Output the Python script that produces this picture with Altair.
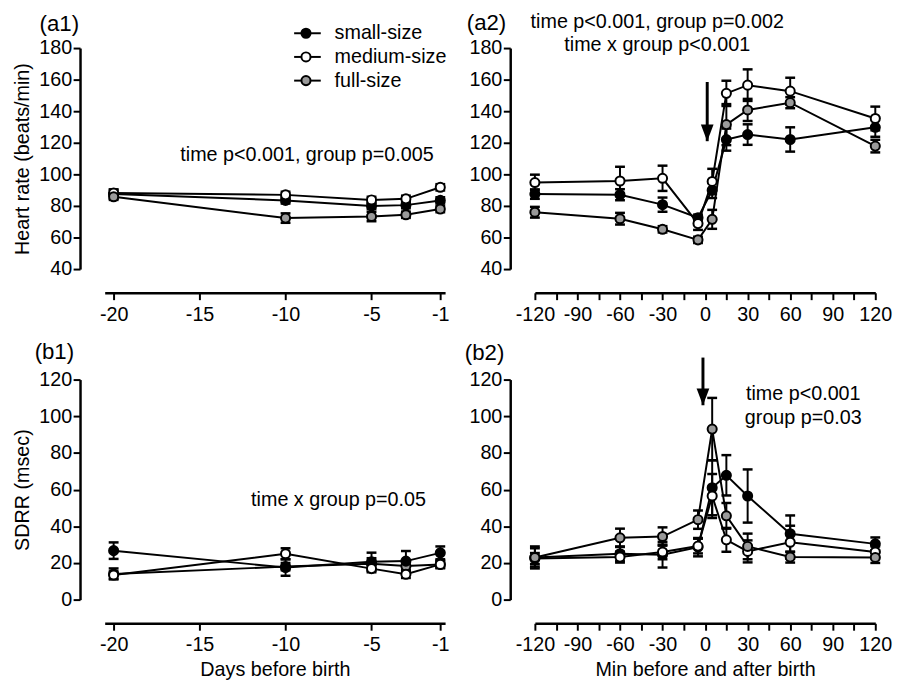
import altair as alt
import pandas as pd

FONT = "Liberation Sans"

groups = ["small-size", "medium-size", "full-size"]
fills = ["#000000", "#ffffff", "#9a9a9a"]

# ---- (a1) heart rate, days before birth
days = [-20, -10, -5, -3, -1]
days_ticks = [-20, -15, -10, -5, -1]
hr_days_small = [87.5, 83.5, 80.0, 80.5, 83.5]
hr_days_small_err = [3, 2, 2, 2, 2]
hr_days_medium = [88.2, 87.0, 83.8, 84.5, 91.8]
hr_days_medium_err = [2, 2, 2, 2, 2]
hr_days_full = [85.8, 72.3, 73.3, 74.4, 78.0]
hr_days_full_err = [2, 3, 3, 2, 2]

# ---- (a2) heart rate, minutes around birth
mins = [-120, -60, -30, -5, 5, 15, 30, 60, 120]
mins_ticks = [-120, -105, -90, -75, -60, -45, -30, -15, 0, 15, 30, 45, 60, 75, 90, 105, 120]
hr_min_small = [87.5, 87.1, 80.8, 72.5, 90.0, 122.0, 125.2, 122.1, 129.8]
hr_min_small_err = [3, 3.5, 4.5, 2, 5, 7, 6.5, 7.7, 6]
hr_min_medium = [94.8, 95.8, 97.5, 68.8, 95.5, 151.3, 156.5, 152.7, 135.4]
hr_min_medium_err = [5, 9, 8, 4, 8, 8, 10, 8.5, 7.5]
hr_min_full = [76.0, 71.9, 65.2, 58.5, 71.5, 131.5, 140.8, 145.4, 117.9]
hr_min_full_err = [3.4, 3.7, 2, 2, 6, 13, 7, 3.5, 4]

# ---- (b1) SDRR, days before birth
sd_days_small = [26.7, 17.5, 20.6, 21.0, 25.5]
sd_days_small_err = [4.5, 4.5, 5, 5.5, 3.5]
sd_days_medium = [13.4, 25.0, 16.9, 13.8, 19.2]
sd_days_medium_err = [2, 3, 2, 2, 2]
sd_days_full = [14.0, 18.0, 19.6, 18.3, 19.2]
sd_days_full_err = [3, 2, 3, 2, 2]

# ---- (b2) SDRR, minutes around birth
sd_min_small = [23.0, 25.0, 24.5, 28.6, 61.0, 67.8, 56.5, 35.9, 30.4]
sd_min_small_err = [6, 4, 7, 5, 15, 11, 14.5, 10, 3.5]
sd_min_medium = [22.4, 23.2, 26.0, 29.2, 56.5, 32.6, 26.3, 31.3, 26.0]
sd_min_medium_err = [3, 3, 4, 4, 12, 6.5, 6, 9, 3]
sd_min_full = [23.0, 33.7, 34.4, 43.6, 93.0, 45.7, 29.0, 23.2, 23.0]
sd_min_full_err = [5, 5, 5, 5, 17, 7, 7, 3, 3]

hr_ticks = [40, 60, 80, 100, 120, 140, 160, 180]
sd_ticks = [0, 20, 40, 60, 80, 100, 120]

# birth arrows (x, top, tip)
arrow_a2 = [1.5, 158.5, 121.0]
arrow_b2 = [-1.5, 132.0, 106.0]

W, H = 345, 224
ARROW_PATH = "M-0.76,-2L0.76,-2L0,0Z"
TXT = 20
LBL = 20

AX_COMMON = dict(grid=False, domainColor="black", domainWidth=2.5, tickColor="black",
                 tickWidth=2, tickSize=7, labelFont=FONT, labelFontSize=LBL,
                 labelColor="black", titleFont=FONT, titleFontSize=TXT,
                 titleFontWeight="normal", titleColor="black")


def one_row():
    return alt.Chart(pd.DataFrame({"k": [0]}))


def text_layer(txt, x, y, align="center", size=TXT):
    return one_row().mark_text(text=txt, font=FONT, fontSize=size, color="black",
                               align=align, baseline="middle").encode(
        x=alt.value(x), y=alt.value(y))


def panel(xs, ys_list, errs_list, xdom, xticks, ydom, yticks, ytitle, xtitle,
          label_every=1, height=H, arrow_spec=None, draw_order=(0, 1, 2), extras=()):
    rows = []
    for gi in draw_order:
        g, ys, es = groups[gi], ys_list[gi], errs_list[gi]
        for x, y, e in zip(xs, ys, es):
            rows.append(dict(x=x, y=y, lo=y - e, hi=y + e, group=g))
    df = pd.DataFrame(rows)
    xs_ = alt.Scale(domain=xdom, nice=False, zero=False)
    ys_ = alt.Scale(domain=ydom, nice=False, zero=False)
    xax = alt.Axis(values=xticks, title=xtitle, offset=24, labelPadding=5, titlePadding=5,
                   labelFlush=False,
                   labelExpr=f"datum.value % {label_every} == 0 ? toString(datum.value) : ''",
                   **AX_COMMON)
    yax = alt.Axis(values=yticks, title=ytitle, offset=25, labelPadding=1.5, titlePadding=6,
                   **AX_COMMON)

    def X(f="x"):
        return alt.X(f"{f}:Q", scale=xs_, axis=xax)

    def Y(f):
        return alt.Y(f"{f}:Q", scale=ys_, axis=yax)

    base = alt.Chart(df)
    line = base.mark_line(color="black", strokeWidth=2).encode(
        x=X(), y=Y("y"), detail="group:N")
    bars = base.mark_rule(color="black", strokeWidth=2).encode(
        x=X(), y=Y("lo"), y2="hi:Q")
    cap_hi = base.mark_tick(orient="horizontal", size=10, thickness=2.5, color="black",
                            opacity=1).encode(x=X(), y=Y("hi"))
    cap_lo = base.mark_tick(orient="horizontal", size=10, thickness=2.5, color="black",
                            opacity=1).encode(x=X(), y=Y("lo"))
    pts = base.mark_point(filled=True, size=85, stroke="black", strokeWidth=2,
                          opacity=1, shape="circle").encode(
        x=X(), y=Y("y"),
        fill=alt.Fill("group:N", scale=alt.Scale(domain=groups, range=fills), legend=None))
    layers = [line, bars, cap_hi, cap_lo, pts]
    if arrow_spec:
        adf = pd.DataFrame({"x": [arrow_spec[0]], "y0": [arrow_spec[1]], "y1": [arrow_spec[2]]})
        layers.append(alt.Chart(adf).mark_rule(color="black", strokeWidth=3).encode(
            x=X(), y=Y("y0"), y2="y1:Q"))
        layers.append(alt.Chart(adf).mark_point(shape=ARROW_PATH, filled=True, fill="black",
                                                strokeWidth=0, size=289, opacity=1).encode(
            x=X(), y=Y("y1")))
    layers.extend(extras)
    return alt.layer(*layers).properties(width=W, height=height)


def legend_layers():
    out = []
    for i, (g, f) in enumerate(zip(groups, fills)):
        yy = -15 + 24 * i
        out.append(one_row().mark_rule(color="black", strokeWidth=2).encode(
            x=alt.value(192), x2=alt.value(219), y=alt.value(yy)))
        out.append(one_row().mark_point(filled=True, size=85, stroke="black", strokeWidth=2,
                                        fill=f, opacity=1, shape="circle").encode(
            x=alt.value(204), y=alt.value(yy)))
        out.append(text_layer(g, 233, yy, align="left"))
    return out


xdays = [-20.52, -0.72]
xmins = [-120, 120]

a1 = panel(days, [hr_days_small, hr_days_medium, hr_days_full],
           [hr_days_small_err, hr_days_medium_err, hr_days_full_err],
           xdays, days_ticks, [40, 180], hr_ticks, "Heart rate (beats/min)", None,
           extras=[text_layer("(a1)", -66, -24, align="left", size=22.5),
                   text_layer("time p<0.001, group p=0.005", 205, 108),
                   *legend_layers()])

a2 = panel(mins, [hr_min_small, hr_min_medium, hr_min_full],
           [hr_min_small_err, hr_min_medium_err, hr_min_full_err],
           xmins, mins_ticks, [40, 180], hr_ticks, None, None, label_every=30,
           arrow_spec=arrow_a2,
           extras=[text_layer("(a2)", -69, -25, align="left", size=22.5),
                   text_layer("time p<0.001, group p=0.002", 124, -26),
                   text_layer("time x group p<0.001", 124, -3)])

b1 = panel(days, [sd_days_small, sd_days_medium, sd_days_full],
           [sd_days_small_err, sd_days_medium_err, sd_days_full_err],
           xdays, days_ticks, [0, 120], sd_ticks, "SDRR (msec)", "Days before birth",
           height=223, draw_order=(2, 0, 1),
           extras=[text_layer("(b1)", -71, -28, align="left", size=22.5),
                   text_layer("time x group p=0.05", 237, 122)])

b2 = panel(mins, [sd_min_small, sd_min_medium, sd_min_full],
           [sd_min_small_err, sd_min_medium_err, sd_min_full_err],
           xmins, mins_ticks, [0, 120], sd_ticks, None, "Min before and after birth",
           label_every=30, height=223, arrow_spec=arrow_b2,
           extras=[text_layer("(b2)", -71, -27, align="left", size=22.5),
                   text_layer("time p<0.001", 272, 15),
                   text_layer("group p=0.03", 272, 39)])

chart = alt.concat(a1, a2, b1, b2, columns=2, spacing={"row": 112, "column": 91},
                   bounds="flush", background="white",
                   padding={"left": 5, "top": 0, "right": 5, "bottom": 5}
                   ).configure_view(stroke=None)

chart.save("out.html", embed_options={"renderer": "svg", "actions": False})
